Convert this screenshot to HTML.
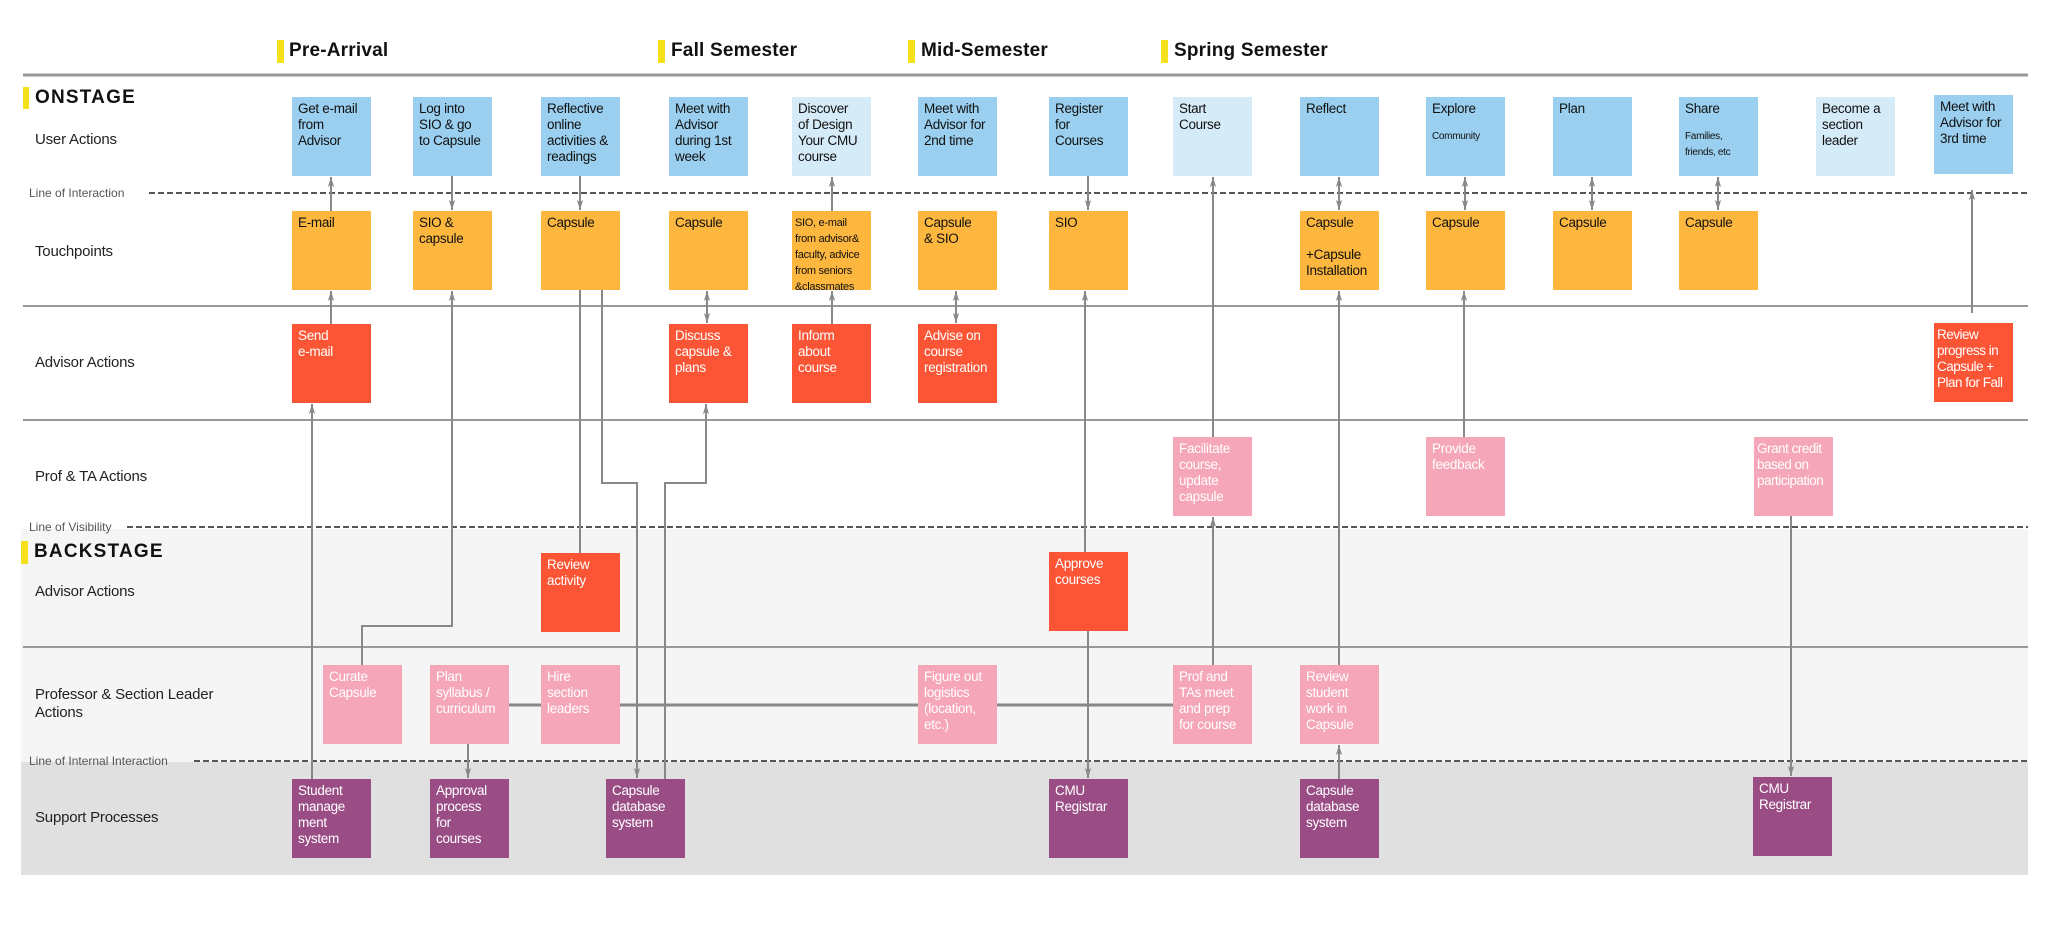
<!DOCTYPE html>
<html><head><meta charset="utf-8"><style>
*{margin:0;padding:0;box-sizing:border-box}
body{width:2048px;height:925px;background:#fff;position:relative;overflow:hidden;font-family:"Liberation Sans",sans-serif}
.a{position:absolute}
.hd{position:absolute;font:bold 19px/24px "Liberation Sans",sans-serif;color:#111;letter-spacing:0.2px}
.bar{position:absolute;background:#f5e11a}
.rl{position:absolute;font-size:15px;line-height:18px;color:#222;letter-spacing:-0.2px}
.ll{position:absolute;font-size:12px;line-height:14px;color:#555}
.b{position:absolute;width:79px;height:79px;padding:4px 0 0 6px;font-size:13.5px;line-height:16px;color:#111;z-index:2;letter-spacing:-0.3px;white-space:nowrap}
.u{background:#9acfef}.ul{background:#d6ebf8}.t{background:#fdb73e}
.r{background:#fc5535;color:#fff}.p{background:#f5a6b8;color:#fff}.s{background:#9a4d85;color:#fff}
.sm{font-size:11px}
svg{position:absolute;left:0;top:0;z-index:1}
</style></head><body>
<div class="a" style="left:21px;top:529px;width:2007px;height:233px;background:#f5f5f5"></div>
<div class="a" style="left:21px;top:762px;width:2007px;height:113px;background:#e0e0e0"></div>

<div class="bar" style="left:277px;top:40px;width:7px;height:23px"></div><div class="hd" style="left:289px;top:39px">Pre-Arrival</div>
<div class="bar" style="left:658px;top:40px;width:7px;height:23px"></div><div class="hd" style="left:671px;top:39px">Fall Semester</div>
<div class="bar" style="left:908px;top:40px;width:7px;height:23px"></div><div class="hd" style="left:921px;top:39px">Mid-Semester</div>
<div class="bar" style="left:1161px;top:40px;width:7px;height:23px"></div><div class="hd" style="left:1174px;top:39px">Spring Semester</div>

<div class="bar" style="left:23px;top:87px;width:6px;height:22px"></div><div class="hd" style="left:35px;top:86px;letter-spacing:1.2px">ONSTAGE</div>
<div class="bar" style="left:21px;top:541px;width:7px;height:23px"></div><div class="hd" style="left:34px;top:540px;letter-spacing:1.2px">BACKSTAGE</div>

<div class="rl" style="left:35px;top:131px">User Actions</div>
<div class="rl" style="left:35px;top:243px">Touchpoints</div>
<div class="rl" style="left:35px;top:354px">Advisor Actions</div>
<div class="rl" style="left:35px;top:468px">Prof &amp; TA Actions</div>
<div class="rl" style="left:35px;top:583px">Advisor Actions</div>
<div class="rl" style="left:35px;top:686px">Professor &amp; Section Leader<br>Actions</div>
<div class="rl" style="left:35px;top:809px">Support Processes</div>
<div class="ll" style="left:29px;top:186px">Line of Interaction</div>
<div class="ll" style="left:29px;top:520px">Line of Visibility</div>
<div class="ll" style="left:29px;top:754px">Line of Internal Interaction</div>

<svg width="2048" height="925">
<defs><marker id="m" markerWidth="10" markerHeight="14" refX="9" refY="3" orient="auto" markerUnits="userSpaceOnUse" viewBox="0 0 9 6"><path d="M0,0.2 L9,3 L0,5.8 L2,3 Z" fill="#888"/></marker>
<marker id="ms" markerWidth="10" markerHeight="14" refX="0" refY="3" orient="auto" markerUnits="userSpaceOnUse" viewBox="0 0 9 6"><path d="M9,0.2 L0,3 L9,5.8 L7,3 Z" fill="#888"/></marker></defs>
<line x1="23" y1="75" x2="2028" y2="75" stroke="#999" stroke-width="3"/>
<line x1="23" y1="306" x2="2028" y2="306" stroke="#999" stroke-width="2"/>
<line x1="23" y1="420" x2="2028" y2="420" stroke="#999" stroke-width="2"/>
<line x1="23" y1="647" x2="2028" y2="647" stroke="#999" stroke-width="2"/>
<g stroke="#555" stroke-width="2" stroke-dasharray="6 3">
<line x1="149" y1="193" x2="2028" y2="193"/>
<line x1="127" y1="527" x2="2028" y2="527"/>
<line x1="194" y1="761" x2="2028" y2="761"/>
</g>
<g stroke="#888" stroke-width="2" fill="none">
<line x1="331" y1="211" x2="331" y2="177" marker-end="url(#m)"/>
<line x1="452" y1="176" x2="452" y2="210" marker-end="url(#m)"/>
<line x1="580" y1="176" x2="580" y2="210" marker-end="url(#m)"/>
<line x1="832" y1="211" x2="832" y2="177" marker-end="url(#m)"/>
<line x1="331" y1="324" x2="331" y2="291" marker-end="url(#m)"/>
<line x1="312" y1="779" x2="312" y2="404" marker-end="url(#m)"/>
<polyline points="362,665 362,626 452,626 452,291" marker-end="url(#m)"/>
<line x1="580" y1="290" x2="580" y2="553"/>
<polyline points="602,290 602,483 637,483 637,778" marker-end="url(#m)"/>
<polyline points="665,779 665,483 706,483 706,404" marker-end="url(#m)"/>
<line x1="707" y1="291" x2="707" y2="323" marker-start="url(#ms)" marker-end="url(#m)"/>
<line x1="832" y1="324" x2="832" y2="291" marker-end="url(#m)"/>
<line x1="956" y1="291" x2="956" y2="323" marker-start="url(#ms)" marker-end="url(#m)"/>
<line x1="468" y1="744" x2="468" y2="778" marker-end="url(#m)"/>
<line x1="1088" y1="176" x2="1088" y2="210" marker-end="url(#m)"/>
<line x1="1085" y1="552" x2="1085" y2="291" marker-end="url(#m)"/>
<line x1="1088" y1="631" x2="1088" y2="778" marker-end="url(#m)"/>
<line x1="1213" y1="437" x2="1213" y2="177" marker-end="url(#m)"/>
<line x1="1213" y1="665" x2="1213" y2="517" marker-end="url(#m)"/>
<line x1="1339" y1="177" x2="1339" y2="210" marker-start="url(#ms)" marker-end="url(#m)"/>
<line x1="1339" y1="665" x2="1339" y2="291" marker-end="url(#m)"/>
<line x1="1339" y1="779" x2="1339" y2="745" marker-end="url(#m)"/>
<line x1="1465" y1="177" x2="1465" y2="210" marker-start="url(#ms)" marker-end="url(#m)"/>
<line x1="1464" y1="437" x2="1464" y2="291" marker-end="url(#m)"/>
<line x1="1592" y1="177" x2="1592" y2="210" marker-start="url(#ms)" marker-end="url(#m)"/>
<line x1="1718" y1="177" x2="1718" y2="210" marker-start="url(#ms)" marker-end="url(#m)"/>
<line x1="1972" y1="313" x2="1972" y2="190" marker-end="url(#m)"/>
<line x1="1791" y1="513" x2="1791" y2="776" marker-end="url(#m)"/>
</g>
<g stroke="#888" stroke-width="3">
<line x1="509" y1="705" x2="541" y2="705"/>
<line x1="620" y1="705" x2="918" y2="705"/>
<line x1="997" y1="705" x2="1173" y2="705"/>
</g>
</svg>

<div class="b u" style="left:292px;top:97px">Get e-mail<br>from<br>Advisor</div>
<div class="b u" style="left:413px;top:97px">Log into<br>SIO &amp; go<br>to Capsule</div>
<div class="b u" style="left:541px;top:97px">Reflective<br>online<br>activities &amp;<br>readings</div>
<div class="b u" style="left:669px;top:97px">Meet with<br>Advisor<br>during 1st<br>week</div>
<div class="b ul" style="left:792px;top:97px">Discover<br>of Design<br>Your CMU<br>course</div>
<div class="b u" style="left:918px;top:97px">Meet with<br>Advisor for<br>2nd time</div>
<div class="b u" style="left:1049px;top:97px">Register<br>for<br>Courses</div>
<div class="b ul" style="left:1173px;top:97px">Start<br>Course</div>
<div class="b u" style="left:1300px;top:97px">Reflect</div>
<div class="b u" style="left:1426px;top:97px">Explore<br><span style="font-size:10px;line-height:40px">Community</span></div>
<div class="b u" style="left:1553px;top:97px">Plan</div>
<div class="b u" style="left:1679px;top:97px">Share<br><span style="font-size:10px;line-height:16px;display:inline-block;margin-top:12px">Families,<br>friends, etc</span></div>
<div class="b ul" style="left:1816px;top:97px">Become a<br>section<br>leader</div>
<div class="b u" style="left:1934px;top:95px">Meet with<br>Advisor for<br>3rd time</div>
<div class="b t" style="left:292px;top:211px">E-mail</div>
<div class="b t" style="left:413px;top:211px">SIO &amp;<br>capsule</div>
<div class="b t" style="left:541px;top:211px">Capsule</div>
<div class="b t" style="left:669px;top:211px">Capsule</div>
<div class="b t sm" style="left:792px;top:211px;padding-left:3px;letter-spacing:-0.3px">SIO, e-mail<br>from advisor&amp;<br>faculty, advice<br>from seniors<br>&amp;classmates</div>
<div class="b t" style="left:918px;top:211px">Capsule<br>&amp; SIO</div>
<div class="b t" style="left:1049px;top:211px">SIO</div>
<div class="b t" style="left:1300px;top:211px">Capsule<br><br>+Capsule<br>Installation</div>
<div class="b t" style="left:1426px;top:211px">Capsule</div>
<div class="b t" style="left:1553px;top:211px">Capsule</div>
<div class="b t" style="left:1679px;top:211px">Capsule</div>
<div class="b r" style="left:292px;top:324px">Send<br>e-mail</div>
<div class="b r" style="left:669px;top:324px">Discuss<br>capsule &amp;<br>plans</div>
<div class="b r" style="left:792px;top:324px">Inform<br>about<br>course</div>
<div class="b r" style="left:918px;top:324px">Advise on<br>course<br>registration</div>
<div class="b r" style="left:1934px;top:323px;padding-left:3px;letter-spacing:-0.5px">Review<br>progress in<br>Capsule +<br>Plan for Fall</div>
<div class="b p" style="left:1173px;top:437px">Facilitate<br>course,<br>update<br>capsule</div>
<div class="b p" style="left:1426px;top:437px">Provide<br>feedback</div>
<div class="b p" style="left:1754px;top:437px;padding-left:3px;letter-spacing:-0.5px">Grant credit<br>based on<br>participation</div>
<div class="b r" style="left:541px;top:553px">Review<br>activity</div>
<div class="b r" style="left:1049px;top:552px">Approve<br>courses</div>
<div class="b p" style="left:323px;top:665px">Curate<br>Capsule</div>
<div class="b p" style="left:430px;top:665px">Plan<br>syllabus /<br>curriculum</div>
<div class="b p" style="left:541px;top:665px">Hire<br>section<br>leaders</div>
<div class="b p" style="left:918px;top:665px">Figure out<br>logistics<br>(location,<br>etc.)</div>
<div class="b p" style="left:1173px;top:665px">Prof and<br>TAs meet<br>and prep<br>for course</div>
<div class="b p" style="left:1300px;top:665px">Review<br>student<br>work in<br>Capsule</div>
<div class="b s" style="left:292px;top:779px">Student<br>manage<br>ment<br>system</div>
<div class="b s" style="left:430px;top:779px">Approval<br>process<br>for<br>courses</div>
<div class="b s" style="left:606px;top:779px">Capsule<br>database<br>system</div>
<div class="b s" style="left:1049px;top:779px">CMU<br>Registrar</div>
<div class="b s" style="left:1300px;top:779px">Capsule<br>database<br>system</div>
<div class="b s" style="left:1753px;top:777px">CMU<br>Registrar</div>
</body></html>
